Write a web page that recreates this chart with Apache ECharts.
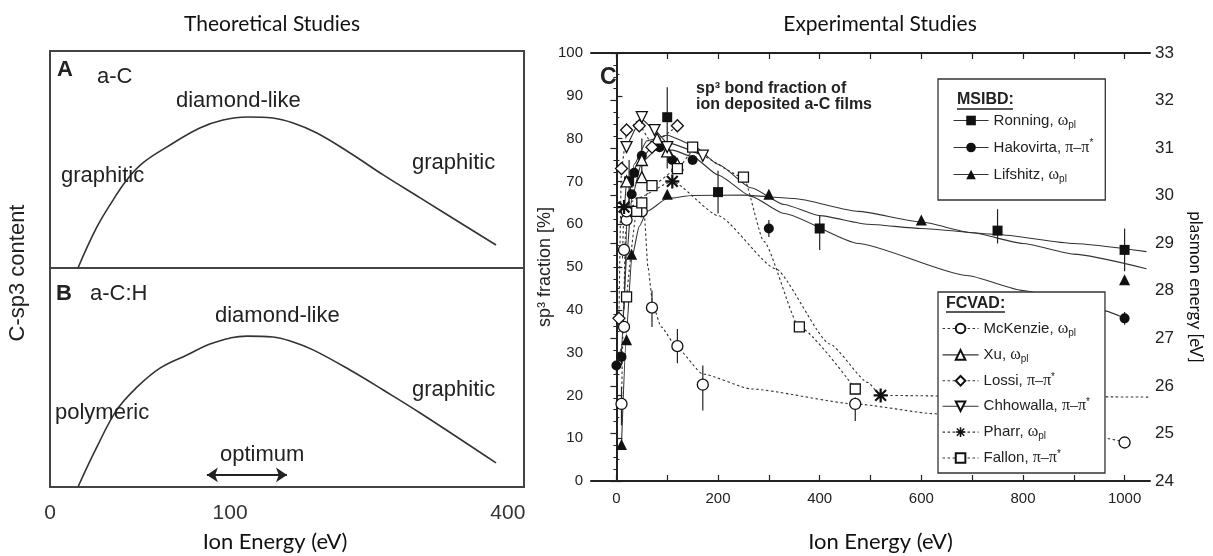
<!DOCTYPE html>
<html>
<head>
<meta charset="utf-8">
<script src="https://cdn.jsdelivr.net/npm/echarts@6/dist/echarts.min.js"></script>
<style>
  html, body { margin: 0; padding: 0; background: #fff; }
  #chart { width: 1213px; height: 556px; }
</style>
</head>
<body>
<div id="chart"></div>
<script>
// ---------- panels A / B (schematic, x and y in % of the panel box) ----------
const abTickPos = [0, 38, 96.6];
const abTickLabels = ['0', '100', '400'];
const curveA = [[5.9, 0], [9.9, 18.9], [13.3, 31.3], [16.2, 40.6], [19.6, 48.4], [24.7, 55.8], [31.6, 64.5],
  [36.5, 68.2], [41.6, 69.6], [47.0, 69.1], [51.3, 66.8], [56.3, 62.2], [63.3, 53.0], [70.3, 42.9], [78.1, 32.3], [94.1, 10.6]];
const curveB = [[5.9, 0], [9.9, 18.3], [14.1, 35.2], [18.4, 45.7], [23.2, 54.3], [28.9, 60.3], [34.4, 65.8],
  [41.6, 68.9], [47.0, 68.5], [51.3, 66.2], [55.5, 62.6], [63.3, 53.4], [70.3, 44.3], [78.1, 33.8], [94.1, 11.0]];
const optimumArrow = [[33.1, 5.5], [50, 5.5]];

// ---------- panel C (ion energy eV, sp3 fraction %) ----------
const xTicks = [0, 100, 200, 300, 400, 500, 600, 700, 800, 900, 1000];
const xTickLabels = [0, 200, 400, 600, 800, 1000];

const ronningPts = [[25, 70], [100, 85], [200, 67.5], [400, 59], [750, 58.5], [1000, 54]];
const ronningFit = [[15, 40], [22, 64], [35, 74], [60, 79.5], [100, 80.8], [150, 78.5], [200, 74], [265, 68.5],
  [330, 64.6], [400, 62], [495, 60], [600, 59], [750, 57.6], [900, 55.5], [1043, 53.6]];

const hakovirtaPts = [[0, 27], [10, 29], [30, 67], [35, 72], [50, 76], [85, 78], [110, 75], [150, 75], [300, 59], [1000, 38]];
const hakovirtaFit = [[0, 27], [10, 31], [20, 52], [30, 66], [50, 74.5], [80, 77.5], [110, 77.3], [150, 75.8],
  [200, 71.5], [265, 66.5], [330, 62.5], [476, 55.5], [690, 48], [800, 44.5], [959, 39.8], [1000, 38]];

const lifshitzPts = [[10, 8.5], [20, 33], [30, 53], [100, 67], [300, 67], [600, 61], [1000, 47]];
const lifshitzFit = [[10, 8.5], [20, 35], [30, 52], [45, 59.5], [60, 63], [100, 66], [150, 66.7], [250, 66.8],
  [350, 66], [476, 63], [600, 60.5], [700, 58], [800, 55.5], [900, 53], [1043, 49.6]];

const mckenziePts = [[10, 18], [15, 36], [15, 54], [20, 61], [20, 63], [50, 63], [70, 40.5], [120, 31.5], [170, 22.5], [470, 18], [1000, 9]];
const mckenzieFit = [[10, 18], [14, 40], [18, 58], [25, 64], [45, 65], [55, 62], [62, 50], [72, 41], [88, 36],
  [120, 31], [170, 25], [266, 21.5], [470, 18], [628, 15.7], [800, 12.8], [1000, 9.2]];

const xuPts = [[20, 70], [50, 71], [50, 75], [80, 80], [100, 77], [120, 74]];
const xuFit = [[15, 62], [20, 70], [50, 75.5], [80, 79.5], [100, 78], [120, 74]];

const lossiPts = [[5, 38], [10, 73], [20, 82], [45, 83], [70, 78], [120, 83]];
const lossiFit = [[5, 38], [10, 73], [20, 81], [40, 84], [70, 79], [120, 83]];

const chhowallaPts = [[20, 78], [50, 85], [75, 82], [100, 78], [170, 76]];
const chhowallaFit = [[20, 78], [50, 84.5], [75, 82], [100, 79], [170, 76]];

const pharrPts = [[15, 64], [110, 70], [520, 20]];
const pharrFit = [[12, 52], [15, 64], [40, 66], [110, 70], [200, 62], [313, 49.6], [420, 32], [495, 23], [520, 20], [700, 19.8], [1050, 19.6]];

const fallonPts = [[20, 43], [40, 63], [50, 65], [70, 69], [120, 73], [150, 78], [250, 71], [360, 36], [470, 21.5]];
const fallonFit = [[20, 43], [40, 63], [50, 65], [70, 69], [120, 73], [150, 77], [250, 71], [290, 56], [360, 36],
  [470, 21.5]];

// [energy, low, high]
const errorBars = [
  [25, 64, 75], [100, 73, 92], [200, 62.5, 72.5], [400, 54, 62], [750, 55.5, 63.5], [1000, 49, 59],
  [0, 25, 28], [10, 27, 31], [50, 72, 80], [300, 57, 61], [1000, 36.5, 39.5],
  [10, 13, 22], [70, 36, 44.5], [120, 27.5, 35.5], [170, 16.5, 27], [470, 14, 19.5]
];

const INK = '#222';
const ASTERISK = 'path://M4.2,0H5.8V10H4.2Z M0,4.2H10V5.8H0Z M0.6,1.7L1.7,0.6L9.4,8.3L8.3,9.4Z M8.3,0.6L9.4,1.7L1.7,9.4L0.6,8.3Z';
const filled = { color: '#111' };
const open = { color: '#fff', borderColor: '#111', borderWidth: 1.3 };

const studies = [
  { key: 'Ronning', pts: ronningPts, fit: ronningFit, symbol: 'rect', size: 10, style: filled, dash: 'solid', group: 'MSIBD' },
  { key: 'Hakovirta', pts: hakovirtaPts, fit: hakovirtaFit, symbol: 'circle', size: 10, style: filled, dash: 'solid', group: 'MSIBD' },
  { key: 'Lifshitz', pts: lifshitzPts, fit: lifshitzFit, symbol: 'triangle', size: 11, style: filled, dash: 'solid', group: 'MSIBD' },
  { key: 'McKenzie', pts: mckenziePts, fit: mckenzieFit, symbol: 'circle', size: 11, style: open, dash: [2.5, 2.5], group: 'FCVAD' },
  { key: 'Xu', pts: xuPts, fit: xuFit, symbol: 'triangle', size: 11, style: open, dash: 'solid', group: 'FCVAD' },
  { key: 'Lossi', pts: lossiPts, fit: lossiFit, symbol: 'diamond', size: 12, style: open, dash: [2.5, 2.5], group: 'FCVAD' },
  { key: 'Chhowalla', pts: chhowallaPts, fit: chhowallaFit, symbol: 'triangle', rotate: 180, size: 11, style: open, dash: 'solid', group: 'FCVAD' },
  { key: 'Pharr', pts: pharrPts, fit: pharrFit, symbol: ASTERISK, size: 14, style: filled, dash: [2.5, 2.5], group: 'FCVAD' },
  { key: 'Fallon', pts: fallonPts, fit: fallonFit, symbol: 'rect', size: 10, style: open, dash: [2.5, 2.5], group: 'FCVAD' }
];

const legendLabels = {
  Ronning: '{t|Ronning, }{g|ω}{s|pl}',
  Hakovirta: '{t|Hakovirta, }{g|π–π}{u|*}',
  Lifshitz: '{t|Lifshitz, }{g|ω}{s|pl}',
  McKenzie: '{t|McKenzie, }{g|ω}{s|pl}',
  Xu: '{t|Xu, }{g|ω}{s|pl}',
  Lossi: '{t|Lossi, }{g|π–π}{u|*}',
  Chhowalla: '{t|Chhowalla, }{g|π–π}{u|*}',
  Pharr: '{t|Pharr, }{g|ω}{s|pl}',
  Fallon: '{t|Fallon, }{g|π–π}{u|*}'
};
const legendRich = {
  t: { fontSize: 15, fontFamily: 'Liberation Sans', color: INK, lineHeight: 18 },
  g: { fontSize: 16, fontFamily: 'Liberation Serif', color: INK, lineHeight: 18 },
  s: { fontSize: 10, fontFamily: 'Liberation Sans', color: INK, lineHeight: 18, padding: [9, 0, 0, 0] },
  u: { fontSize: 10, fontFamily: 'Liberation Sans', color: INK, lineHeight: 18, padding: [0, 0, 8, 0] }
};

function legendFor(group, box) {
  return {
    data: studies.filter(s => s.group === group).map(s => ({
      name: s.key,
      lineStyle: { opacity: 1, width: 1.1, color: '#333', type: s.dash }
    })),
    orient: 'vertical',
    left: box.left,
    top: box.top,
    padding: box.padding,
    itemWidth: box.itemWidth,
    itemHeight: 12,
    itemGap: box.gap,
    selectedMode: false,
    borderColor: '#333',
    borderWidth: 1.3,
    borderRadius: 0,
    backgroundColor: '#fff',
    formatter: name => legendLabels[name],
    textStyle: { rich: legendRich },
    z: 5
  };
}

function txt(x, y, text, size, opts = {}) {
  return {
    type: 'text', x, y, z: 10, rotation: opts.rotation || 0,
    style: {
      text, fontSize: size, fontFamily: opts.family || 'Liberation Sans', fontWeight: opts.weight || 'normal',
      fill: opts.fill || INK, align: opts.align || 'left', verticalAlign: 'middle'
    }
  };
}

const chart = echarts.init(document.getElementById('chart'));

const fitSeries = studies.map(s => ({
  name: s.key + ' fit', type: 'line', xAxisIndex: 2, yAxisIndex: 2, data: s.fit,
  symbol: 'none', smooth: 0.18, smoothMonotone: 'x', silent: true,
  lineStyle: { color: '#333', width: 1.1, type: s.dash }, z: 2
}));
const pointSeries = studies.map(s => ({
  name: s.key, type: 'line', xAxisIndex: 2, yAxisIndex: 2, data: s.pts,
  symbol: s.symbol, symbolSize: s.size, symbolRotate: s.rotate || 0, showAllSymbol: true,
  lineStyle: { opacity: 0, width: 1.1, type: s.dash }, itemStyle: s.style, silent: true, z: 3
}));

const axisLabelC = { fontSize: 15, fontFamily: 'Liberation Sans', color: INK };

chart.setOption({
  animation: false,
  textStyle: { fontFamily: 'Liberation Sans' },
  grid: [
    { left: 50, top: 51, width: 474, height: 217, show: true, borderColor: '#444', borderWidth: 2, backgroundColor: 'transparent', outerBoundsMode: 'none' },
    { left: 50, top: 268, width: 474, height: 219, show: true, borderColor: '#444', borderWidth: 2, backgroundColor: 'transparent', outerBoundsMode: 'none' },
    { left: 591, top: 53, width: 559, height: 428, outerBoundsMode: 'none' }
  ],
  xAxis: [
    { gridIndex: 0, type: 'value', min: 0, max: 100, show: false },
    {
      gridIndex: 1, type: 'value', min: 0, max: 100,
      axisLine: { show: false }, axisTick: { show: false }, splitLine: { show: false },
      axisLabel: {
        customValues: abTickPos, margin: 16, fontSize: 21, color: '#333',
        formatter: v => abTickLabels[abTickPos.indexOf(v)]
      },
      name: 'Ion Energy (eV)', nameLocation: 'middle', nameGap: 44,
      nameTextStyle: { fontFamily: 'Lato', fontSize: 22, color: '#111', padding: [0, 24, 0, 0] }
    },
    {
      gridIndex: 2, type: 'value', min: -50, max: 1050, position: 'bottom',
      axisLine: { lineStyle: { color: '#222', width: 2 } },
      axisTick: { inside: true, length: 6, customValues: xTicks, lineStyle: { color: '#222', width: 1.2 } },
      axisLabel: { customValues: xTickLabels, margin: 10, formatter: v => String(v), ...axisLabelC },
      splitLine: { show: false },
      name: 'Ion Energy (eV)', nameLocation: 'middle', nameGap: 50,
      nameTextStyle: { fontFamily: 'Lato', fontSize: 22, color: '#111', padding: [0, 0, 0, 20] }
    },
    {
      gridIndex: 2, type: 'value', min: -50, max: 1050, position: 'top',
      axisLine: { lineStyle: { color: '#222', width: 2 } },
      axisTick: { inside: true, length: 6, customValues: xTicks, lineStyle: { color: '#222', width: 1.2 } },
      axisLabel: { show: false }, splitLine: { show: false }
    }
  ],
  yAxis: [
    { gridIndex: 0, type: 'value', min: 0, max: 100, show: false },
    { gridIndex: 1, type: 'value', min: 0, max: 100, show: false },
    {
      gridIndex: 2, type: 'value', min: 0, max: 100, interval: 10, position: 'left',
      axisLine: { show: true, lineStyle: { color: '#222', width: 2 } },
      axisTick: { show: true, inside: true, length: 6, lineStyle: { color: '#222', width: 1.2 } },
      minorTick: { show: true, splitNumber: 2, length: 3, lineStyle: { color: '#222', width: 1 } },
      axisLabel: { margin: 8, ...axisLabelC }, splitLine: { show: false },
      name: 'sp³ fraction [%]', nameLocation: 'middle', nameGap: 37,
      nameTextStyle: { fontSize: 18, fontFamily: 'Liberation Sans', color: INK }
    },
    {
      gridIndex: 2, type: 'value', min: 24, max: 33, interval: 1, position: 'right',
      axisLine: { show: true, lineStyle: { color: '#222', width: 2 } },
      axisTick: { show: true, inside: true, length: 6, lineStyle: { color: '#222', width: 1.2 } },
      minorTick: { show: true, splitNumber: 4, length: 3, lineStyle: { color: '#222', width: 1 } },
      axisLabel: { margin: 5, fontSize: 17, fontFamily: 'Liberation Sans', color: INK }, splitLine: { show: false },
      name: 'plasmon energy [eV]', nameLocation: 'middle', nameGap: 37, nameRotate: -90,
      nameTextStyle: { fontSize: 17, fontFamily: 'Lato', color: '#111', padding: [0, 0, 0, 40] }
    }
  ],
  legend: [
    legendFor('MSIBD', { left: 938, top: 79, padding: [32, 12, 16, 15], itemWidth: 35, gap: 8.5 }),
    legendFor('FCVAD', { left: 938, top: 292, padding: [27, 15, 6, 4], itemWidth: 36, gap: 7.4 })
  ],
  graphic: [
    txt(272, 24, 'Theoretical Studies', 21, { family: 'Lato', align: 'center', fill: '#111' }),
    txt(880, 24, 'Experimental Studies', 21, { family: 'Lato', align: 'center', fill: '#111' }),
    txt(18, 273, 'C-sp3 content', 22, { align: 'center', rotation: Math.PI / 2 }),
    txt(57, 70, 'A', 22, { weight: 'bold' }),
    txt(97, 77, 'a-C', 22),
    txt(176, 101, 'diamond-like', 22),
    txt(61, 176, 'graphitic', 22),
    txt(412, 163, 'graphitic', 22),
    txt(56, 294, 'B', 22, { weight: 'bold' }),
    txt(90, 294, 'a-C:H', 22),
    txt(215, 316, 'diamond-like', 22),
    txt(55, 413, 'polymeric', 22),
    txt(220, 455, 'optimum', 22),
    txt(412, 390, 'graphitic', 22),
    txt(600, 78, 'C', 23, { weight: 'bold' }),
    txt(696, 89, 'sp³ bond fraction of', 16, { weight: 'bold' }),
    txt(696, 104.5, 'ion deposited a-C films', 16, { weight: 'bold' }),
    txt(957, 100, 'MSIBD:', 16, { weight: 'bold' }),
    { type: 'line', z: 10, shape: { x1: 957, y1: 109, x2: 1013, y2: 109 }, style: { stroke: INK, lineWidth: 1.3 } },
    txt(946, 304, 'FCVAD:', 16, { weight: 'bold' }),
    { type: 'line', z: 10, shape: { x1: 946, y1: 312, x2: 1005, y2: 312 }, style: { stroke: INK, lineWidth: 1.3 } }
  ],
  series: [
    { name: 'a-C', type: 'line', xAxisIndex: 0, yAxisIndex: 0, data: curveA, symbol: 'none', smooth: 0.4, silent: true,
      lineStyle: { color: '#333', width: 1.6 } },
    { name: 'a-C:H', type: 'line', xAxisIndex: 1, yAxisIndex: 1, data: curveB, symbol: 'none', smooth: 0.4, silent: true,
      lineStyle: { color: '#333', width: 1.6 } },
    { name: 'optimum', type: 'lines', coordinateSystem: 'cartesian2d', xAxisIndex: 1, yAxisIndex: 1, silent: true,
      data: [{ coords: optimumArrow }], symbol: ['arrow', 'arrow'], symbolSize: 11,
      lineStyle: { color: INK, width: 2, opacity: 1 } },
    ...fitSeries,
    {
      name: 'error bars', type: 'custom', xAxisIndex: 2, yAxisIndex: 2, data: errorBars, silent: true, z: 2,
      encode: { x: 0, y: [1, 2] },
      renderItem: (params, api) => {
        const lo = api.coord([api.value(0), api.value(1)]);
        const hi = api.coord([api.value(0), api.value(2)]);
        return { type: 'line', shape: { x1: lo[0], y1: lo[1], x2: hi[0], y2: hi[1] }, style: { stroke: '#222', lineWidth: 1.2 } };
      }
    },
    ...pointSeries
  ]
});
</script>
</body>
</html>
